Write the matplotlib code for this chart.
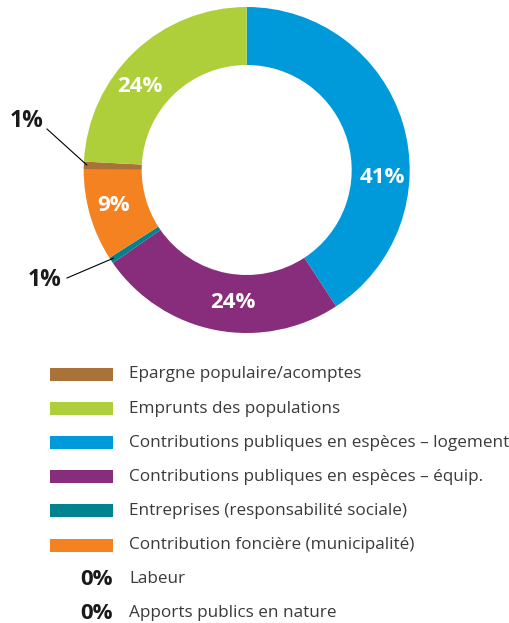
import numpy as np
import matplotlib
matplotlib.use("Agg")
from matplotlib import pyplot as plt
from matplotlib.patches import Rectangle

plt.rcParams['font.family'] = ['Open Sans', 'DejaVu Sans']

# parts clockwise from the top
parts = ['Contributions publiques en espèces – logement',
         'Contributions publiques en espèces – équip.',
         'Entreprises (responsabilité sociale)',
         'Contribution foncière (municipalité)',
         'Epargne populaire/acomptes',
         'Emprunts des populations']
values = [40.8, 24.6, 0.6, 9.1, 0.8, 24.2]
labels = ['41%', '24%', '1%', '9%', '1%', '24%']
colors = ['#009ADA', '#872D7B', '#00838F', '#F58220', '#A97238', '#AFCF3A']

legend_order = [4, 5, 0, 1, 2, 3]
zero_items = ['Labeur', 'Apports publics en nature']
zero_labels = ['0%', '0%']

W, H = 509, 623
fig = plt.figure(figsize=(W / 100, H / 100), dpi=100)
ax = fig.add_axes([0, 0, 1, 1])

cx, cy = 246.7, H - 170
R, w = 163, 58
wedges, _ = ax.pie(values, colors=colors, startangle=90, counterclock=False,
                   radius=R, center=(cx, cy),
                   wedgeprops=dict(width=w, linewidth=0))

# where each label sits (angle deg, radius px)
inside = {0: (-3, 136), 1: (-96, 133), 3: (-165, 138), 5: (142, 135)}
for i, lab in enumerate(labels):
    if i in inside:
        a, r = inside[i]
        x = cx + r * np.cos(np.radians(a))
        y = cy + r * np.sin(np.radians(a))
        ax.text(x, y, lab, color='white', fontsize=16, fontweight='bold',
                ha='center', va='center')

# small slices: leader lines
theta = 90.0
mids = []
for v in values:
    mids.append(theta - v * 3.6 / 2)
    theta -= v * 3.6
for i, (tx, ty), (lx, ly) in [(4, (27, H - 121), (47, H - 129)),
                              (2, (45, H - 280), (67, H - 278))]:
    a = np.radians(mids[i])
    px, py = cx + (R - 3) * np.cos(a), cy + (R - 3) * np.sin(a)
    ax.plot([lx, px], [ly, py], color='black', lw=0.8)
    ax.text(tx, ty, labels[i], color='#1a1a1a', fontsize=16.5, fontweight='bold',
            ha='center', va='center')

# legend
y0, dy = H - 374.5, 34.1
for k, idx in enumerate(legend_order):
    y = y0 - k * dy
    ax.add_patch(Rectangle((50, y - 6.5), 63, 13, color=colors[idx], lw=0))
    ax.text(129, y, parts[idx], fontsize=12.3, color='#3a3a3a', va='center', ha='left')
for j, (lab, txt) in enumerate(zip(zero_labels, zero_items)):
    y = y0 - (len(legend_order) + j) * dy
    ax.text(113, y, lab, fontsize=16, fontweight='bold', color='#1a1a1a',
            va='center', ha='right')
    ax.text(129, y, txt, fontsize=12.3, color='#3a3a3a', va='center', ha='left')

ax.set_xlim(0, W)
ax.set_ylim(0, H)
ax.set_aspect('auto')
ax.axis('off')
fig.savefig('out.png', dpi=100)
